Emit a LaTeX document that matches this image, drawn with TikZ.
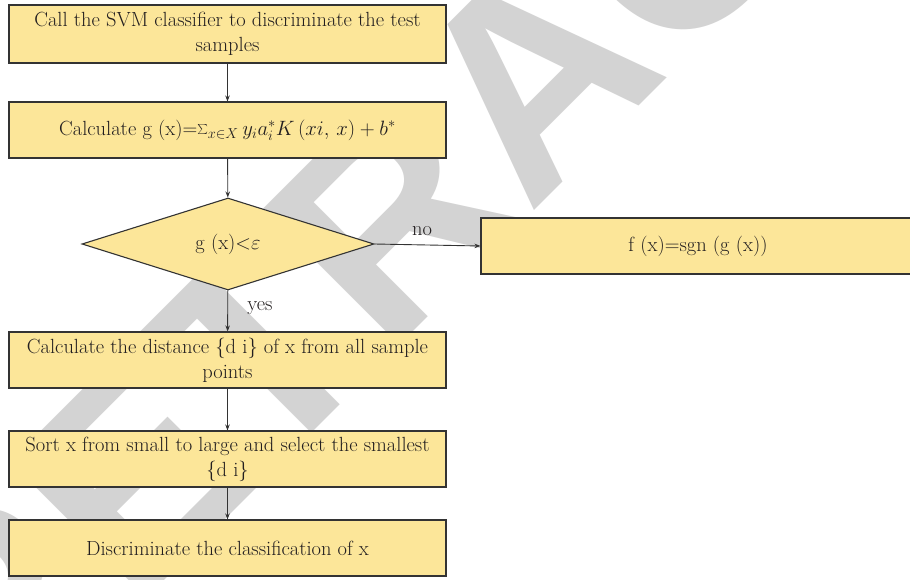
\documentclass[tikz,border=0pt]{standalone}
\usepackage{fontspec}
\newfontfamily\wmfont{Liberation Sans}
\usetikzlibrary{arrows.meta,shapes.geometric}
\definecolor{boxfill}{HTML}{FCE699}
\definecolor{boxline}{HTML}{333333}
\definecolor{wm}{HTML}{D3D3D3}
\definecolor{ink}{HTML}{231F20}
\tikzset{
  stepbox/.style={draw=boxline, fill=boxfill, line width=1.1pt, minimum width=437pt, minimum height=56pt, inner sep=0pt, align=center, font=\fontsize{20.5}{25}\selectfont, text=ink},
  decbox/.style={diamond, draw=boxline, fill=boxfill, line width=1.1pt, aspect=3.17, minimum width=292pt, minimum height=92pt, inner sep=0pt, font=\fontsize{20.5}{25}\selectfont, text=ink},
  flow/.style={draw=boxline, line width=0.9pt, -{Stealth[length=6pt,width=4.5pt]}},
  lbl/.style={font=\fontsize{20.5}{25}\selectfont, text=ink}
}
\begin{document}
\begin{tikzpicture}[x=1pt,y=-1pt]
\useasboundingbox (0,0) rectangle (910,580);
\fill[white] (0,0) rectangle (910,580);
\node[rotate=45, text=wm, font=\wmfont\bfseries\fontsize{280}{280}\selectfont] (wmk) at (533,76) {RETRACTED};
\node[stepbox, minimum height=58pt] (b1) at (227.5,34) {Call the SVM classifier to discriminate the test\\samples};
\node[stepbox] (b2) at (227.5,130) {Calculate g (x)=$\sum_{x\in X} y_i a_i^{*} K\,(xi,\,x)+b^{*}$};
\node[decbox] (d) at (228,244) {g (x)<$\varepsilon$};
\node[stepbox, minimum width=434pt] (f) at (698,246) {f (x)=sgn (g (x))};
\node[stepbox] (b3) at (227.5,360) {Calculate the distance \{d i\} of x from all sample\\points};
\node[stepbox] (b4) at (227.5,459) {Sort x from small to large and select the smallest\\\{d i\}};
\node[stepbox] (b5) at (227.5,548) {Discriminate the classification of x};
\draw[flow] (b1) -- (b2);
\draw[flow] (b2) -- (d);
\draw[flow] (d) -- (b3);
\draw[flow] (b3) -- (b4);
\draw[flow] (b4) -- (b5);
\draw[flow] (d.east) -- (f.west);
\node[lbl] (no) at (422,231) {no};
\node[lbl] (yes) at (260,308) {yes};
\end{tikzpicture}
\end{document}
